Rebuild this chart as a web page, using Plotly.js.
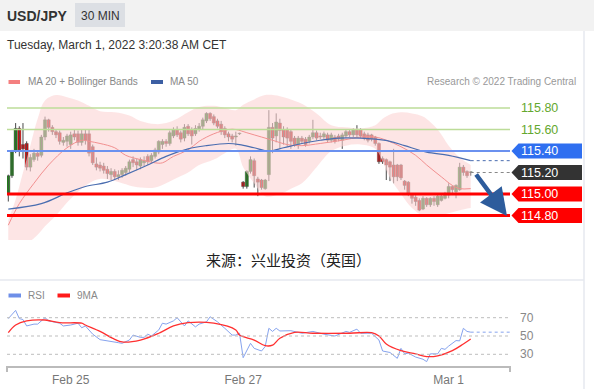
<!DOCTYPE html>
<html><head><meta charset="utf-8">
<script src="https://cdn.plot.ly/plotly-3.0.1.min.js"></script>
<style>html,body{margin:0;padding:0;background:#fff;}#c{width:594px;height:389px;}</style>
</head><body><div id="c"></div>
<script>
// ---------------- DATA ----------------
const candleOpen = [115.01,115.17,115.40,115.61,115.46,115.47,115.25,115.32,115.38,115.36,115.53,115.69,115.62,115.58,115.57,115.48,115.49,115.46,115.56,115.56,115.48,115.56,115.56,115.44,115.28,115.27,115.26,115.23,115.18,115.21,115.16,115.18,115.20,115.23,115.32,115.30,115.26,115.29,115.35,115.31,115.35,115.39,115.46,115.49,115.47,115.54,115.60,115.57,115.52,115.63,115.60,115.56,115.60,115.63,115.68,115.75,115.72,115.68,115.65,115.61,115.56,115.54,115.53,115.56,
115.11,115.07,115.21,115.31,115.14,115.13,115.05,115.18,115.62,115.54,115.66,115.60,115.60,115.58,115.52,115.46,115.52,115.51,115.49,115.53,115.57,115.54,115.53,115.55,115.50,115.53,115.54,115.50,115.54,115.58,115.55,115.60,115.60,115.56,115.55,115.55,115.53,115.47,115.33,115.32,115.30,115.27,115.27,115.27,115.12,115.11,114.99,114.97,114.94,114.86,114.96,114.90,114.96,114.90,114.94,114.96,114.99,115.07,115.02,115.04,115.25,115.21,115.20];
const candleHigh = [115.18,115.41,115.66,115.63,115.66,115.49,115.37,115.42,115.40,115.55,115.72,115.70,115.64,115.60,115.59,115.53,115.56,115.58,115.60,115.59,115.60,115.60,115.60,115.46,115.34,115.30,115.29,115.26,115.24,115.23,115.22,115.24,115.26,115.32,115.35,115.33,115.34,115.35,115.37,115.38,115.43,115.50,115.51,115.51,115.59,115.62,115.63,115.59,115.65,115.65,115.62,115.64,115.66,115.71,115.76,115.76,115.74,115.70,115.68,115.63,115.58,115.56,115.58,115.57,
115.12,115.22,115.35,115.33,115.16,115.14,115.14,115.78,115.66,115.75,115.70,115.63,115.62,115.60,115.54,115.54,115.54,115.53,115.55,115.69,115.59,115.57,115.58,115.57,115.57,115.55,115.56,115.57,115.60,115.60,115.61,115.64,115.61,115.58,115.57,115.56,115.54,115.48,115.35,115.33,115.31,115.42,115.28,115.28,115.13,115.12,115.00,114.99,114.96,114.98,114.97,114.97,114.98,114.99,115.00,115.02,115.10,115.08,115.09,115.29,115.27,115.22,115.21];
const candleLow = [114.93,115.15,115.38,115.35,115.33,115.22,115.21,115.30,115.31,115.34,115.50,115.58,115.55,115.52,115.46,115.45,115.44,115.42,115.50,115.45,115.45,115.46,115.35,115.27,115.22,115.21,115.19,115.14,115.13,115.13,115.13,115.15,115.17,115.20,115.25,115.22,115.23,115.26,115.27,115.29,115.33,115.37,115.42,115.44,115.45,115.52,115.53,115.48,115.49,115.54,115.46,115.54,115.58,115.60,115.66,115.68,115.64,115.61,115.55,115.52,115.49,115.48,115.45,115.55,
115.05,115.05,115.19,115.06,114.98,115.04,115.04,115.12,115.38,115.48,115.42,115.46,115.44,115.42,115.44,115.42,115.47,115.44,115.47,115.51,115.50,115.51,115.51,115.48,115.48,115.47,115.49,115.42,115.52,115.53,115.53,115.53,115.52,115.50,115.48,115.49,115.45,115.28,115.28,115.13,115.12,115.10,115.12,115.13,115.04,114.98,114.91,114.89,114.84,114.85,114.88,114.88,114.89,114.88,114.93,114.95,114.96,114.99,114.96,115.03,115.17,115.15,115.17];
const candleClose = [115.17,115.39,115.61,115.41,115.42,115.25,115.34,115.38,115.35,115.53,115.69,115.62,115.58,115.55,115.49,115.50,115.54,115.55,115.53,115.48,115.56,115.50,115.38,115.29,115.25,115.24,115.22,115.19,115.21,115.16,115.18,115.22,115.24,115.30,115.29,115.27,115.32,115.31,115.30,115.36,115.41,115.49,115.49,115.47,115.57,115.60,115.55,115.51,115.62,115.56,115.54,115.61,115.63,115.69,115.75,115.70,115.66,115.63,115.58,115.55,115.53,115.51,115.54,115.56,
115.07,115.21,115.32,115.17,115.11,115.06,115.13,115.62,115.52,115.67,115.59,115.53,115.52,115.49,115.46,115.52,115.49,115.46,115.53,115.57,115.52,115.53,115.56,115.50,115.55,115.49,115.51,115.55,115.58,115.55,115.60,115.55,115.54,115.52,115.50,115.51,115.47,115.30,115.30,115.27,115.25,115.16,115.16,115.15,115.08,115.01,114.96,114.93,114.85,114.96,114.90,114.96,114.93,114.98,114.98,115.00,115.07,115.04,115.08,115.25,115.20,115.17,115.20];

// MA20 (pink) and Bollinger bands, read at candle indices
const ma20Idx = [0,3,7,11,16,20,22,25,29,32,36,40,42,45,49,52,56,60,62,65,69,72,76,80,85,91,96,100,103,107,111,114,118,121,123,126];
const ma20Val = [114.71,114.91,115.10,115.27,115.43,115.50,115.49,115.47,115.43,115.36,115.32,115.29,115.29,115.35,115.41,115.49,115.56,115.60,115.60,115.57,115.53,115.50,115.46,115.45,115.47,115.50,115.53,115.53,115.50,115.44,115.36,115.27,115.16,115.08,115.05,115.05];
const bandIdx = [0,2,4,6,8,10,13,16,19,22,25,29,33,36,40,43,46,49,52,56,59,62,64,67,70,74,77,80,84,88,92,96,100,102,104,107,110,113,117,120,123,126];
const bandUpper = [114.76,114.95,115.20,115.45,115.70,115.87,115.92,115.90,115.87,115.82,115.77,115.76,115.73,115.68,115.65,115.66,115.70,115.76,115.81,115.82,115.80,115.78,115.83,115.88,115.92,115.91,115.88,115.84,115.75,115.64,115.62,115.61,115.64,115.70,115.74,115.76,115.75,115.72,115.60,115.45,115.34,115.27];
const bandLower = [114.40,114.45,114.50,114.56,114.62,114.70,114.80,114.92,115.02,115.10,115.14,115.12,115.08,115.06,115.06,115.10,115.15,115.20,115.27,115.32,115.38,115.42,115.25,115.10,114.98,115.00,115.05,115.10,115.25,115.40,115.45,115.46,115.42,115.30,115.15,115.00,114.87,114.80,114.80,114.82,114.85,114.87];

// MA50 (blue)
const ma50Idx = [0,9,16,21,27,32,38,43,49,54,60,63,67,71,75,80,85,90,96,100,104,108,114,120,126];
const ma50Val = [114.86,114.91,115.01,115.07,115.11,115.18,115.27,115.35,115.42,115.45,115.47,115.46,115.43,115.40,115.43,115.47,115.50,115.52,115.52,115.51,115.49,115.45,115.39,115.36,115.31];

// RSI and its 9MA
const rsiIdx = [0,2,3,4,5,7,8,10,11,14,15,17,19,20,21,23,25,27,30,31,33,34,36,37,38,39,41,42,43,45,46,47,48,49,51,52,54,55,57,59,61,62,63,64,66,67,69,70,71,72,73,74,77,80,83,86,89,92,93,95,96,99,101,102,104,106,107,108,109,111,113,114,115,117,118,119,120,122,123,124,125,126];
const rsiVal = [69,78,69,68,61,63,63,70,66.5,64,61,62,64,59,61,52,46,45,42.7,42,45.6,51,48.5,48.5,52,50,56.6,64,63,66.5,70,65.5,61,66.5,60,63,65.5,71,65.5,58.4,51,51,53,26.3,42,36.5,33.6,38.5,58.4,55,58.4,55.5,55.8,53,55,52,50,55,54,57.5,53,53,45.6,33.6,32,25.6,36.5,30.5,31.3,27,24.6,22,30.5,30.5,36.5,35.4,39,45,44.7,58.4,55,54.2];
const rsiMaIdx = [0,2,5,10,14,20,21,25,29,31,36,41,45,49,56,62,63,67,70,72,74,78,83,93,99,101,103,107,111,114,117,121,124,126];
const rsiMaVal = [53.6,62,66.5,67.5,64.6,64,62,55,46.4,43.5,45.6,53,61,64.6,64,56.6,51,45.6,39.4,40,47.5,54,53,53,53.6,50,41.3,34,30.5,27.5,28.3,34,41.3,46.8];

// levels and labels
const greenLevels = [115.80, 115.60];
const blueLevels = [115.40];
const redLevels = [115.00, 114.80];
const lastPrice = 115.20;
const rsiLevels = [70, 50, 30];
const tickIdx = [17, 64, 120];
const tickText = ['Feb 25', 'Feb 27', 'Mar 1'];

// ---------------- LAYOUT HELPERS ----------------
const W = 594, H = 389;
const X = px => px / W;
const Y = py => 1 - py / H;
const FONT = 'Liberation Sans, Arial, sans-serif';
const CJK = 'Noto Sans CJK SC, sans-serif';

const pxPerIdx = (470.7 - 8.3) / 126;
const idxAt = px => (px - 8.3) / pxPerIdx;
const xRange = [idxAt(7), idxAt(510)];
const priceAt = py => 115 + (194 - py) / 107.5;
const yTop = 92, yBot = 240;
const rsiAt = py => 50 + (336 - py) / 0.915;
const rTop = 300, rBot = 366;

const n = candleClose.length;
const idx = candleClose.map((_, i) => i);
const GREEN = '#15900f', RED = '#ee0000';
const bodyBase = candleOpen.map((o, i) => Math.min(o, candleClose[i]));
const bodyLen = candleOpen.map((o, i) => Math.max(Math.abs(candleClose[i] - o), 0.006));
const bodyCol = candleOpen.map((o, i) => candleClose[i] >= o ? GREEN : RED);

const traces = [
  {x: bandIdx, y: bandUpper, mode: 'lines', line: {width: 0, shape: 'spline'}, hoverinfo: 'skip', showlegend: false, xaxis: 'x', yaxis: 'y'},
  {x: bandIdx, y: bandLower, mode: 'lines', line: {width: 0, shape: 'spline'}, fill: 'tonexty', fillcolor: 'rgba(252,212,212,0.6)', hoverinfo: 'skip', showlegend: false, xaxis: 'x', yaxis: 'y'},
  {x: ma20Idx, y: ma20Val, mode: 'lines', line: {color: '#f29090', width: 1, shape: 'spline'}, showlegend: false, xaxis: 'x', yaxis: 'y'},
  {x: ma50Idx, y: ma50Val, mode: 'lines', line: {color: '#4a6db0', width: 1.2, shape: 'spline'}, showlegend: false, xaxis: 'x', yaxis: 'y'},
  {type: 'ohlc', x: idx, open: candleOpen, high: candleHigh, low: candleLow, close: candleClose, tickwidth: 0,
   increasing: {line: {color: '#4a4a4a', width: 1}}, decreasing: {line: {color: '#4a4a4a', width: 1}},
   showlegend: false, xaxis: 'x', yaxis: 'y'},
  {type: 'bar', x: idx, base: bodyBase, y: bodyLen, width: 0.85, marker: {color: bodyCol, line: {color: '#3a3a3a', width: 0.4}}, showlegend: false, xaxis: 'x', yaxis: 'y'},
  {x: rsiIdx, y: rsiVal, mode: 'lines', line: {color: '#86a3ee', width: 1}, showlegend: false, xaxis: 'x2', yaxis: 'y2'},
  {x: rsiMaIdx, y: rsiMaVal, mode: 'lines', line: {color: '#ff3030', width: 1.3, shape: 'spline'}, showlegend: false, xaxis: 'x2', yaxis: 'y2'}
];

const shapes = [];
const annotations = [];
const rect = (x0, y0, x1, y1, fill) => shapes.push({type: 'rect', xref: 'paper', yref: 'paper', x0: X(x0), x1: X(x1), y0: Y(y1), y1: Y(y0), fillcolor: fill, line: {width: 0}, layer: 'below'});
const pline = (x0, y0, x1, y1, color, w) => shapes.push({type: 'line', xref: 'paper', yref: 'paper', x0: X(x0), x1: X(x1), y0: Y(y0), y1: Y(y1), line: {color: color, width: w}});
const txt = (px, py, text, size, color, anchor, extra) => annotations.push(Object.assign({xref: 'paper', yref: 'paper', x: X(px), y: Y(py), text: text, showarrow: false, xanchor: anchor || 'left', yanchor: 'middle', borderpad: 0, font: {family: FONT, size: size, color: color}}, extra || {}));

// header
rect(0, 0, 594, 31, '#f2f2f2');
rect(75, 3, 125, 27, '#dcdfe4');
txt(6, 15.5, '<b>USD/JPY</b>', 14, '#333');
txt(100, 15.5, '30 MIN', 12, '#333', 'center');
txt(6, 45, 'Tuesday, March 1, 2022 3:20:38 AM CET', 12, '#333');
// borders
pline(0, 280, 584, 280, '#e6e9ef', 1.5);
pline(584, 31, 584, 389, '#e6e9ef', 1.5);
// legend
rect(8.5, 80, 20, 84, '#f47f7f');
txt(26.5, 82, 'MA 20 + Bollinger Bands', 10, '#888');
rect(151, 80, 163, 84, '#3c5fa3');
txt(168.5, 82, 'MA 50', 10, '#888');
txt(577, 82, 'Research © 2022 Trading Central', 10, '#999', 'right');
rect(8.5, 293.5, 21, 297.5, '#6e8fe8');
txt(26.5, 295.5, 'RSI', 10, '#888');
rect(57.5, 293.5, 70, 297.5, '#ff1a1a');
txt(75.5, 295.5, '9MA', 10, '#888');
// source
annotations.push({xref: 'paper', yref: 'paper', x: X(288), y: Y(259), text: '来源：兴业投资（英国）', showarrow: false, xanchor: 'center', yanchor: 'middle', font: {family: CJK, size: 15, color: '#222'}});

// level lines
const hl = (v, color, w, dash) => shapes.push({type: 'line', xref: 'paper', yref: 'y', x0: X(7), x1: X(510), y0: v, y1: v, line: {color: color, width: w, dash: dash || 'solid'}});
greenLevels.forEach(v => hl(v, '#bcdc98', 1.5));
blueLevels.forEach(v => hl(v, '#6b91ef', 2));
redLevels.forEach(v => hl(v, '#ff0000', 3));
shapes.push({type: 'line', xref: 'x', yref: 'y', x0: n - 1, x1: xRange[1], y0: lastPrice, y1: lastPrice, line: {color: '#888', width: 1, dash: 'dot'}});
shapes.push({type: 'line', xref: 'x', yref: 'y', x0: ma50Idx[ma50Idx.length - 1], x1: xRange[1], y0: ma50Val[ma50Val.length - 1], y1: ma50Val[ma50Val.length - 1], line: {color: '#4a6db0', width: 1, dash: 'dot'}});

// price tags
const ph = 7.5 / 107.5;
const tag = (v, fill, textColor) => {
  if (fill) {
    shapes.push({type: 'path', xref: 'paper', yref: 'y', path: `M ${X(511.5)},${v} L ${X(518.5)},${v + ph} L ${X(582)},${v + ph} L ${X(582)},${v - ph} L ${X(518.5)},${v - ph} Z`, fillcolor: fill, line: {width: 0}});
  }
  annotations.push({xref: 'paper', yref: 'y', x: X(519.5), y: v, text: v.toFixed(2), showarrow: false, xanchor: 'left', yanchor: 'middle', borderpad: 0, font: {family: FONT, size: 12.5, color: textColor}});
};
greenLevels.forEach(v => tag(v, null, '#64a82e'));
blueLevels.forEach(v => tag(v, '#2f6ff0', '#fff'));
tag(lastPrice, '#333333', '#fff');
redLevels.forEach(v => tag(v, '#ff0000', '#fff'));

// arrow
annotations.push({xref: 'paper', yref: 'paper', x: X(507), y: Y(216), ax: -32, ay: -43, showarrow: true, arrowhead: 2, arrowsize: 1.2, arrowwidth: 4.5, arrowcolor: '#2d5c9c', text: ''});

// RSI levels
rsiLevels.forEach(v => {
  shapes.push({type: 'line', xref: 'paper', yref: 'y2', x0: X(7), x1: X(510), y0: v, y1: v, line: {color: '#bdbdbd', width: 1, dash: 'dot'}});
  annotations.push({xref: 'paper', yref: 'y2', x: X(519), y: v, text: String(v), showarrow: false, xanchor: 'left', yanchor: 'middle', borderpad: 0, font: {family: FONT, size: 12, color: '#888'}});
});
shapes.push({type: 'line', xref: 'x2', yref: 'y2', x0: rsiIdx[rsiIdx.length - 1], x1: xRange[1], y0: rsiVal[rsiVal.length - 1], y1: rsiVal[rsiVal.length - 1], line: {color: '#86a3ee', width: 1, dash: 'dot'}});
pline(7, 366, 7, 372, '#bbb', 2);
pline(510, 366, 510, 372, '#bbb', 2);

const layout = {
  width: W, height: H, margin: {l: 0, r: 0, t: 0, b: 0},
  paper_bgcolor: '#fff', plot_bgcolor: 'rgba(0,0,0,0)', showlegend: false,
  barmode: 'overlay',
  xaxis: {domain: [X(7), X(510)], range: xRange, anchor: 'y', showgrid: false, zeroline: false, showticklabels: false, rangeslider: {visible: false}, fixedrange: true},
  yaxis: {domain: [Y(yBot), Y(yTop)], range: [priceAt(yBot), priceAt(yTop)], anchor: 'x', showgrid: false, zeroline: false, showticklabels: false},
  xaxis2: {domain: [X(7), X(510)], range: xRange, anchor: 'y2', matches: 'x', showgrid: false, zeroline: false, showline: true, linecolor: '#bbb', linewidth: 2,
           tickmode: 'array', tickvals: tickIdx, ticktext: tickText, ticks: '', ticklabelstandoff: 2, tickfont: {family: FONT, size: 12, color: '#777'}},
  yaxis2: {domain: [Y(rBot), Y(rTop)], range: [rsiAt(rBot), rsiAt(rTop)], anchor: 'x2', showgrid: false, zeroline: false, showticklabels: false},
  shapes: shapes, annotations: annotations, font: {family: FONT}
};
Plotly.newPlot('c', traces, layout, {staticPlot: true});
</script></body></html>
